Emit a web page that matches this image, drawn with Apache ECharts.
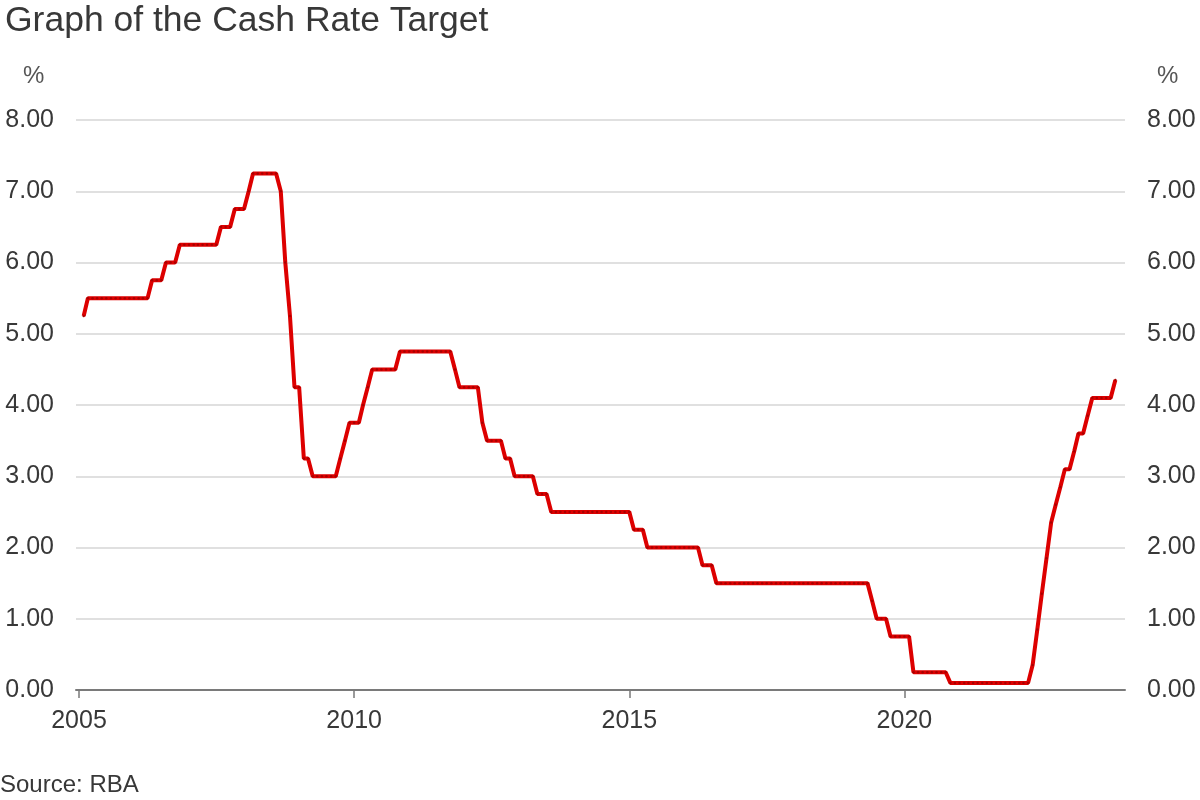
<!DOCTYPE html>
<html>
<head>
<meta charset="utf-8">
<script src="https://cdn.jsdelivr.net/npm/echarts@6/dist/echarts.min.js"></script>
<style>
html,body{margin:0;padding:0;background:#fff;}
#chart{width:1200px;height:800px;}
</style>
</head>
<body>
<div id="chart"></div>
<script>
// Monthly RBA cash rate target (%), value in effect at end of each month.
// 2005 starts in February; 2023 ends in November.
const firstYear = 2005;
const firstMonth = 2; // February
const rate2005 = [5.25, 5.50, 5.50, 5.50, 5.50, 5.50, 5.50, 5.50, 5.50, 5.50, 5.50];
const rate2006 = [5.50, 5.50, 5.50, 5.50, 5.75, 5.75, 5.75, 6.00, 6.00, 6.00, 6.25, 6.25];
const rate2007 = [6.25, 6.25, 6.25, 6.25, 6.25, 6.25, 6.25, 6.50, 6.50, 6.50, 6.75, 6.75];
const rate2008 = [6.75, 7.00, 7.25, 7.25, 7.25, 7.25, 7.25, 7.25, 7.00, 6.00, 5.25, 4.25];
const rate2009 = [4.25, 3.25, 3.25, 3.00, 3.00, 3.00, 3.00, 3.00, 3.00, 3.25, 3.50, 3.75];
const rate2010 = [3.75, 3.75, 4.00, 4.25, 4.50, 4.50, 4.50, 4.50, 4.50, 4.50, 4.75, 4.75];
const rate2011 = [4.75, 4.75, 4.75, 4.75, 4.75, 4.75, 4.75, 4.75, 4.75, 4.75, 4.50, 4.25];
const rate2012 = [4.25, 4.25, 4.25, 4.25, 3.75, 3.50, 3.50, 3.50, 3.50, 3.25, 3.25, 3.00];
const rate2013 = [3.00, 3.00, 3.00, 3.00, 2.75, 2.75, 2.75, 2.50, 2.50, 2.50, 2.50, 2.50];
const rate2014 = [2.50, 2.50, 2.50, 2.50, 2.50, 2.50, 2.50, 2.50, 2.50, 2.50, 2.50, 2.50];
const rate2015 = [2.50, 2.25, 2.25, 2.25, 2.00, 2.00, 2.00, 2.00, 2.00, 2.00, 2.00, 2.00];
const rate2016 = [2.00, 2.00, 2.00, 2.00, 1.75, 1.75, 1.75, 1.50, 1.50, 1.50, 1.50, 1.50];
const rate2017 = [1.50, 1.50, 1.50, 1.50, 1.50, 1.50, 1.50, 1.50, 1.50, 1.50, 1.50, 1.50];
const rate2018 = [1.50, 1.50, 1.50, 1.50, 1.50, 1.50, 1.50, 1.50, 1.50, 1.50, 1.50, 1.50];
const rate2019 = [1.50, 1.50, 1.50, 1.50, 1.50, 1.25, 1.00, 1.00, 1.00, 0.75, 0.75, 0.75];
const rate2020 = [0.75, 0.75, 0.25, 0.25, 0.25, 0.25, 0.25, 0.25, 0.25, 0.25, 0.10, 0.10];
const rate2021 = [0.10, 0.10, 0.10, 0.10, 0.10, 0.10, 0.10, 0.10, 0.10, 0.10, 0.10, 0.10];
const rate2022 = [0.10, 0.10, 0.10, 0.10, 0.35, 0.85, 1.35, 1.85, 2.35, 2.60, 2.85, 3.10];
const rate2023 = [3.10, 3.35, 3.60, 3.60, 3.85, 4.10, 4.10, 4.10, 4.10, 4.10, 4.35];

const yTicks = [0, 1, 2, 3, 4, 5, 6, 7, 8];
const xTickYears = [2005, 2010, 2015, 2020];

const titleText = 'Graph of the Cash Rate Target';
const unitText = '%';
const sourceText = 'Source: RBA';

// Build [timestamp, value] pairs (first-of-month timestamps)
const yearly = [rate2005, rate2006, rate2007, rate2008, rate2009, rate2010, rate2011,
  rate2012, rate2013, rate2014, rate2015, rate2016, rate2017, rate2018, rate2019,
  rate2020, rate2021, rate2022, rate2023];
const seriesData = [];
yearly.forEach(function (arr, yi) {
  const year = firstYear + yi;
  const m0 = yi === 0 ? firstMonth - 1 : 0;
  arr.forEach(function (v, i) {
    seriesData.push([Date.UTC(year, m0 + i, 1), v]);
  });
});
const tickStamps = xTickYears.map(function (y) { return Date.UTC(y, 0, 1); });

const chart = echarts.init(document.getElementById('chart'), null, {renderer: 'canvas'});
const FONT = 'Liberation Sans, Arial, sans-serif';
const TXT = '#383838';

const yAxisCommon = {
  type: 'value',
  min: yTicks[0],
  max: yTicks[yTicks.length - 1],
  interval: 1,
  axisLine: {show: false},
  axisTick: {show: false},
  axisLabel: {
    color: TXT, fontSize: 25, fontFamily: FONT, margin: 22,
    formatter: function (v) { return v.toFixed(2); }
  }
};

chart.setOption({
  animation: false,
  backgroundColor: '#ffffff',
  title: {
    text: titleText,
    left: 0,
    top: -2,
    textStyle: {color: TXT, fontSize: 35.5, fontWeight: 'normal', fontFamily: FONT}
  },
  grid: {left: 76, right: 75, top: 120, bottom: 110, containLabel: false},
  xAxis: {
    type: 'value',
    min: Date.UTC(2004, 11, 12),
    max: Date.UTC(2024, 0, 4),
    splitLine: {show: false},
    axisLine: {show: true, lineStyle: {color: '#7a7a7a', width: 2}},
    axisTick: {show: true, customValues: tickStamps, length: 8, lineStyle: {color: '#7a7a7a', width: 1.5}},
    axisLabel: {
      customValues: tickStamps,
      color: TXT, fontSize: 25, fontFamily: FONT, margin: 19,
      formatter: function (v) { return String(new Date(v).getUTCFullYear()); }
    }
  },
  yAxis: [
    Object.assign({}, yAxisCommon, {
      position: 'left',
      splitLine: {show: true, lineStyle: {color: '#e0e0e0', width: 2}}
    }),
    Object.assign({}, yAxisCommon, {
      position: 'right',
      splitLine: {show: false},
      axisLabel: Object.assign({}, yAxisCommon.axisLabel, {align: 'left'})
    })
  ],
  graphic: [
    {type: 'text', left: 23, top: 64, style: {text: unitText, fill: '#555', fontSize: 24, fontFamily: FONT}},
    {type: 'text', left: 1157, top: 64, style: {text: unitText, fill: '#555', fontSize: 24, fontFamily: FONT}},
    {type: 'text', left: 0, top: 773, style: {text: sourceText, fill: TXT, fontSize: 24, fontFamily: FONT}}
  ],
  series: [{
    type: 'line',
    yAxisIndex: 0,
    data: seriesData,
    showSymbol: true,
    showAllSymbol: true,
    symbol: 'circle',
    symbolSize: 2.5,
    itemStyle: {color: '#a80000'},
    lineStyle: {color: '#dd0000', width: 4},
    emphasis: {disabled: true}
  }]
});
</script>
</body>
</html>
